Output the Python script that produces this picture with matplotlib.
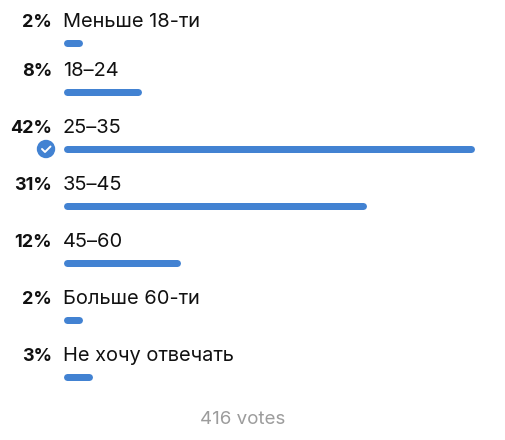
import matplotlib.pyplot as plt
from matplotlib.patches import Circle

labels = ["Меньше 18-ти", "18–24", "25–35", "35–45", "45–60", "Больше 60-ти", "Не хочу отвечать"]
percents = [2, 8, 42, 31, 12, 2, 3]
chosen = 2
total_votes = 416

plt.rcParams['font.family'] = ['Inter', 'DejaVu Sans']

W, H = 505, 440
fig = plt.figure(figsize=(W / 100, H / 100), dpi=100)
ax = fig.add_axes([0, 0, 1, 1])
ax.set_xlim(0, W)
ax.set_ylim(H, 0)
ax.axis('off')

blue = '#4282d2'
x0 = 63          # left edge of labels and bars
full = 411       # bar length for the largest option
thick = 7        # bar thickness in px
pt = 72 / 100    # px -> points

# row positions (bar centre), first row sits a little closer
bar_y = [43] + [92 + 57 * k for k in range(6)]

pmax = max(percents)
for i, (lab, p) in enumerate(zip(labels, percents)):
    yb = bar_y[i]
    base = yb - 16
    ax.text(52, base, f"{p}%", ha='right', va='baseline', fontsize=13,
            fontweight='bold', color='#111111')
    ax.text(x0, base, lab, ha='left', va='baseline', fontsize=14.4, color='#111111')
    length = p / pmax * full
    r = thick / 2
    ax.plot([x0 + r, x0 + length - r], [yb, yb], color=blue, lw=thick * pt,
            solid_capstyle='round')
    if i == chosen:
        ax.add_patch(Circle((46, yb), 8.5, color=blue))
        ax.plot([42, 45, 50.5], [yb, yb + 3, yb - 2.5], color='white',
                lw=1.4, solid_capstyle='round', solid_joinstyle='round')

ax.text(243, 424, f"{total_votes} votes", ha='center', va='baseline',
        fontsize=13.5, color='#9c9c9c')

fig.savefig('out.png', dpi=100)
